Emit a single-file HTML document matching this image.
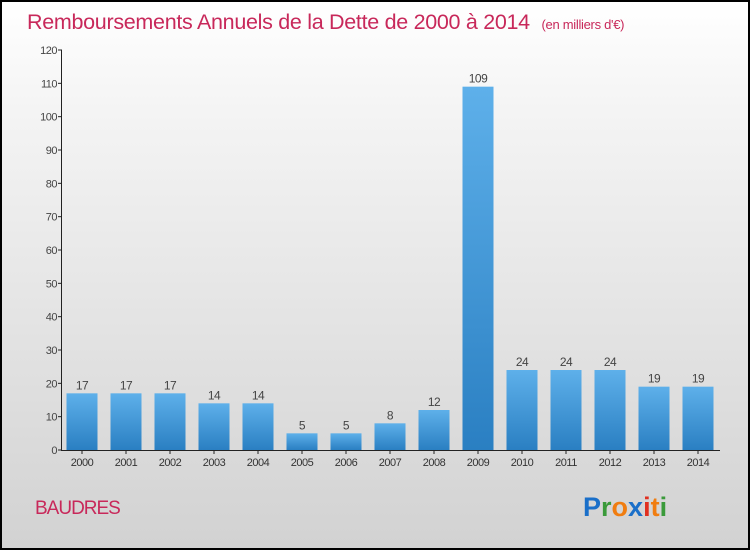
<!DOCTYPE html>
<html><head><meta charset="utf-8"><style>
html,body{margin:0;padding:0}
body{width:750px;height:550px;overflow:hidden;font-family:"Liberation Sans",sans-serif}
#wrap{position:absolute;left:0;top:0;width:746px;height:546px;border:2px solid #000;background:linear-gradient(#ffffff,#f4f4f4 20%,#d2d2d2)}
</style></head><body>
<div id="wrap">
<svg id="chart" width="746" height="546" viewBox="2 2 746 546">
<defs><linearGradient id="bg" x1="0" y1="0" x2="0" y2="1"><stop offset="0" stop-color="#5eb0ea"/><stop offset="1" stop-color="#2a7fc2"/></linearGradient></defs>
<text x="27" y="29" font-size="21.5" fill="#c8285a" style="letter-spacing:-0.3px">Remboursements Annuels de la Dette de 2000 à 2014 <tspan font-size="13" dx="6">(en milliers d'€)</tspan></text>
<g id="yaxis"></g>
<g id="bars"></g>
<g id="xaxis"></g>
<text x="35" y="514" font-size="19" fill="#c8285a" style="letter-spacing:-1px">BAUDRES</text>
<text x="583" y="516" font-size="27" font-weight="bold"><tspan fill="#1a6fc9">P</tspan><tspan fill="#3a9a3a">r</tspan><tspan fill="#f07d10">o</tspan><tspan fill="#1a6fc9">x</tspan><tspan fill="#e03020">i</tspan><tspan fill="#f07d10">t</tspan><tspan fill="#3a9a3a">i</tspan></text>
</svg></div>
<script>
const years=["2000","2001","2002","2003","2004","2005","2006","2007","2008","2009","2010","2011","2012","2013","2014"];
const values=[17,17,17,14,14,5,5,8,12,109,24,24,24,19,19];
const yTicks=[0,10,20,30,40,50,60,70,80,90,100,110,120];
const NS="http://www.w3.org/2000/svg";
const y0=450,yMax=120,plotH=400;
function yScale(v){return y0-v/yMax*plotH;}
function xCenter(i){return 82+i*44;}
function mk(tag,attrs,parent,txt){const e=document.createElementNS(NS,tag);for(const k in attrs)e.setAttribute(k,attrs[k]);if(txt!==undefined)e.textContent=txt;parent.appendChild(e);return e;}
const ya=document.getElementById('yaxis'),ba=document.getElementById('bars'),xa=document.getElementById('xaxis');
let l=mk('line',{x1:61.5,x2:61.5,y1:yScale(120),y2:y0,stroke:'#222'},ya);


yTicks.forEach(t=>{const y=yScale(t);
 const tk=mk('line',{x1:58,x2:62,y1:y,y2:y,stroke:'#222'},ya);
 
 
 const tl=mk('text',{x:57,y:y+4,'font-size':11,'text-anchor':'end',fill:'#444','letter-spacing':'-0.5'},ya,String(t));
 
 
});
const xl=mk('line',{x1:61,x2:720,y1:y0+0.5,y2:y0+0.5,stroke:'#222'},xa);


years.forEach((yr,i)=>{const cx=xCenter(i),v=values[i],top=yScale(v);
 const r=mk('rect',{x:cx-15.5,y:top,width:31,height:y0-top,fill:'url(#bg)'},ba);
 
 
 const vl=mk('text',{x:cx,y:top-4,'font-size':12,'text-anchor':'middle',fill:'#444','letter-spacing':'-0.5'},ba,String(v));
 
 
 const tk=mk('line',{x1:cx,x2:cx,y1:y0,y2:y0+4,stroke:'#222'},xa);
 
 
 const xt=mk('text',{x:cx,y:466,'font-size':11,'text-anchor':'middle',fill:'#333','letter-spacing':'-0.5'},xa,yr);
 
 
});
</script>
</body></html>
